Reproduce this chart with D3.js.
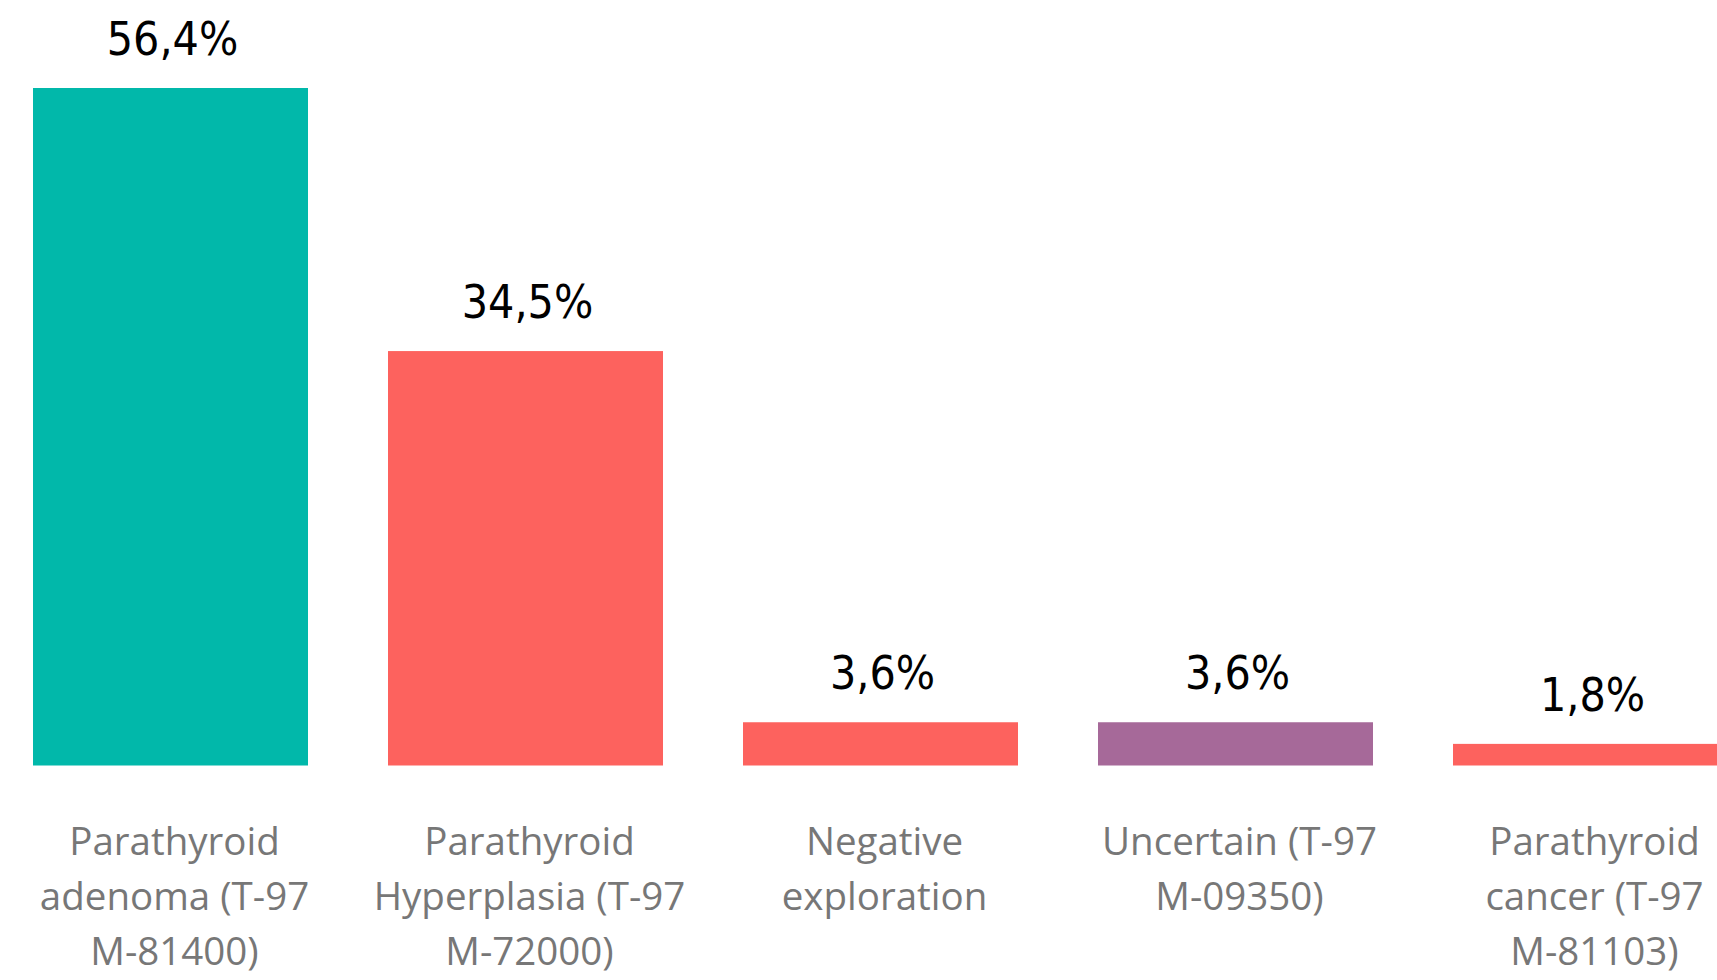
<!DOCTYPE html>
<html>
<head>
<meta charset="utf-8">
<script src="https://cdn.jsdelivr.net/npm/d3@7"></script>
<style>
  html, body { margin: 0; padding: 0; background: #fff; overflow: hidden; }
  svg { display: block; }
</style>
</head>
<body>
<svg id="chart" width="1717" height="980"></svg>
<script>
// Diagnosis categories and their share of cases (%)
const categories = [
  "Parathyroid adenoma (T-97 M-81400)",
  "Parathyroid Hyperplasia (T-97 M-72000)",
  "Negative exploration",
  "Uncertain (T-97 M-09350)",
  "Parathyroid cancer (T-97 M-81103)"
];
// Axis label lines for each category
const tickLabelLines = [
  ["Parathyroid", "adenoma (T-97", "M-81400)"],
  ["Parathyroid", "Hyperplasia (T-97", "M-72000)"],
  ["Negative", "exploration"],
  ["Uncertain (T-97", "M-09350)"],
  ["Parathyroid", "cancer (T-97", "M-81103)"]
];
const shares = [56.4, 34.5, 3.6, 3.6, 1.8];
const barColors = ["#01B8AA", "#FD625E", "#FD625E", "#A66999", "#FD625E"];

const svg = d3.select("#chart");
const plot = { left: 33, bottom: 765.5, top: 88 };

// Band scale: step 355px, bar 275px; the last bar runs past the right edge
const step = 355, barW = 275;
const x = d3.scaleBand()
  .domain(categories)
  .range([plot.left - (step - barW) / 2, plot.left - (step - barW) / 2 + step * categories.length])
  .paddingInner((step - barW) / step)
  .paddingOuter((step - barW) / step / 2);

const y = d3.scaleLinear()
  .domain([0, 56.4])
  .range([plot.bottom, plot.top]);

const locale = d3.formatLocale({ decimal: ",", thousands: ".", grouping: [3], currency: ["", "€"] });
const fmt = v => locale.format(".1f")(v) + "%";

const data = categories.map((c, i) => ({ cat: c, value: shares[i], color: barColors[i], lines: tickLabelLines[i] }));

// Bars
svg.append("g").selectAll("rect")
  .data(data)
  .join("rect")
  .attr("x", d => x(d.cat))
  .attr("y", d => y(d.value))
  .attr("width", x.bandwidth())
  .attr("height", d => y(0) - y(d.value))
  .attr("fill", d => d.color);

// Value labels above the bars
svg.append("g").selectAll("text")
  .data(data)
  .join("text")
  .attr("x", d => x(d.cat) + x.bandwidth() / 2 + 2)
  .attr("y", d => y(d.value) - 33)
  .attr("text-anchor", "middle")
  .attr("font-family", "'DejaVu Sans Condensed', 'Liberation Sans Narrow', sans-serif")
  .attr("font-stretch", "condensed")
  .attr("font-size", 46)
  .attr("fill", "#000")
  .text(d => fmt(d.value));

// Category axis labels
const labels = svg.append("g").selectAll("text")
  .data(data)
  .join("text")
  .attr("text-anchor", "middle")
  .attr("font-family", "'Open Sans', 'Noto Sans', sans-serif")
  .attr("font-size", 38.5)
  .attr("fill", "#777777");

labels.selectAll("tspan")
  .data(d => d.lines.map(l => ({ text: l, cx: x(d.cat) + x.bandwidth() / 2 + 4 })))
  .join("tspan")
  .attr("x", l => l.cx)
  .attr("y", (l, i) => 855 + i * 55)
  .text(l => l.text);
</script>
</body>
</html>
